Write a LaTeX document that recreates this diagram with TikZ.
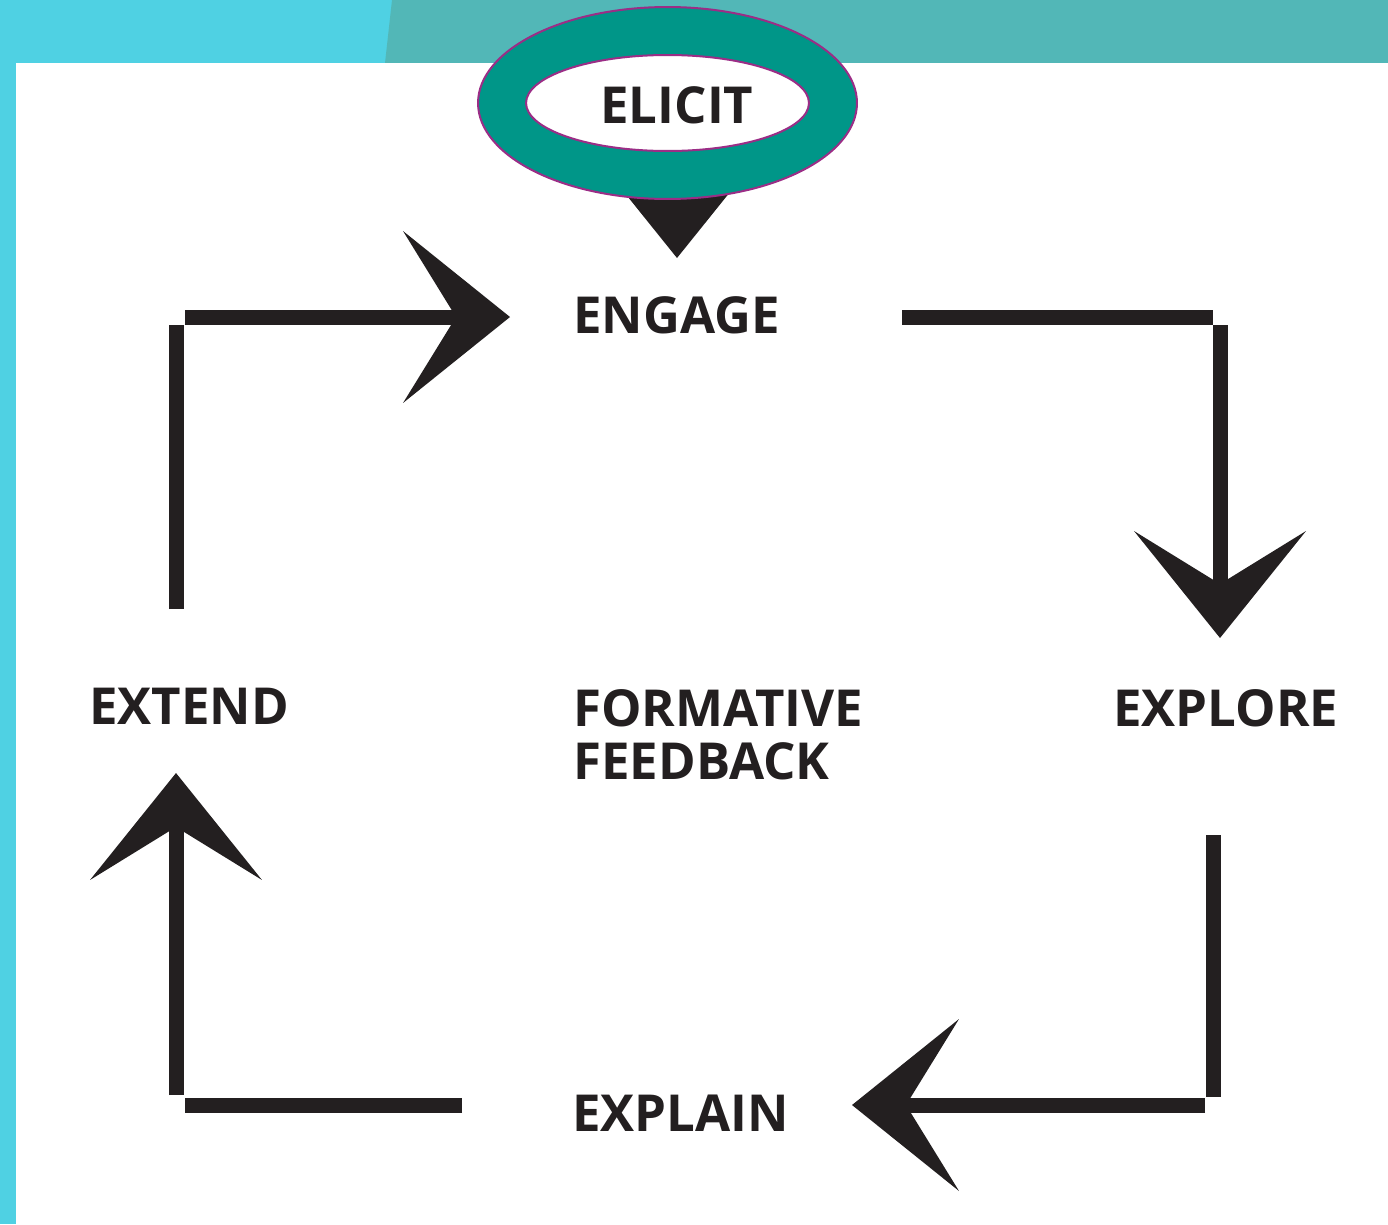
\documentclass[tikz,border=0pt]{standalone}
\usepackage{fontspec}
\setmainfont{Open Sans}
\usetikzlibrary{arrows.meta}

\definecolor{bandcyan}{HTML}{4FD1E3}
\definecolor{bandteal}{HTML}{52B7B7}
\definecolor{ringteal}{HTML}{009688}
\definecolor{ringedge}{HTML}{9B2D86}
\definecolor{ink}{HTML}{231F20}

\tikzset{
    bar/.style={draw=ink, line width=0.3cm, line cap=butt},
    tip/.style={-{Stealth[length=2.14cm, width=3.44cm, inset=1.06cm, line width=0pt]}},
    word/.style={anchor=base west, inner sep=0pt, text=ink, font=\fontsize{29}{34}\selectfont\bfseries}
}

\begin{document}
\begin{tikzpicture}[x=0.02cm, y=-0.02cm]

    % background
    \useasboundingbox (0,0) rectangle (1388,1224);
    \fill[bandcyan] (0,0) rectangle (1388,1224);
    \fill[bandteal] (392,0) -- (1388,0) -- (1388,63) -- (385,63) -- cycle;
    \fill[white] (16,63) rectangle (1388,1224);

    % ends and corners
    \coordinate (a) at (176, 609);
    \coordinate (b) at (176, 325);
    \coordinate (c) at (185, 317);
    \coordinate (d) at (510, 317);
    \coordinate (e) at (902, 317);
    \coordinate (f) at (1213, 317);
    \coordinate (g) at (1220, 325);
    \coordinate (h) at (1220, 638);
    \coordinate (i) at (1213, 835);
    \coordinate (j) at (1213, 1097);
    \coordinate (k) at (1205, 1105);
    \coordinate (l) at (852, 1105);
    \coordinate (m) at (462, 1105);
    \coordinate (n) at (185, 1105);
    \coordinate (o) at (176, 1095);
    \coordinate (p) at (176, 773);
    \coordinate (q) at (677, 170);
    \coordinate (r) at (677, 258);

    \draw [bar] (a) -- (b);
    \draw [bar, tip] (c) -- (d);
    \draw [bar] (e) -- (f);
    \draw [bar, tip] (g) -- (h);
    \draw [bar] (i) -- (j);
    \draw [bar, tip] (k) -- (l);
    \draw [bar] (m) -- (n);
    \draw [bar, tip] (o) -- (p);
    \draw [bar, tip] (q) -- (r);

    % ring
    \coordinate (s) at (667.5, 103);
    \draw [fill=ringteal, draw=ringedge, line width=0.04cm] (s) ellipse [x radius=3.79cm, y radius=1.92cm];
    \draw [fill=white, draw=ringedge, line width=0.04cm] (s) ellipse [x radius=2.83cm, y radius=0.96cm];

    \node [word] (elicit) at (600, 123) {ELICIT};
    \node [word] (engage) at (573, 333) {ENGAGE};
    \node [word] (extend) at (89, 724) {EXTEND};
    \node [word] (explore) at (1113, 726) {EXPLORE};
    \node [word] (formative) at (573, 726) {FORMATIVE};
    \node [word] (feedback) at (573, 779) {FEEDBACK};
    \node [word] (explain) at (572, 1131) {EXPLAIN};

\end{tikzpicture}
\end{document}
